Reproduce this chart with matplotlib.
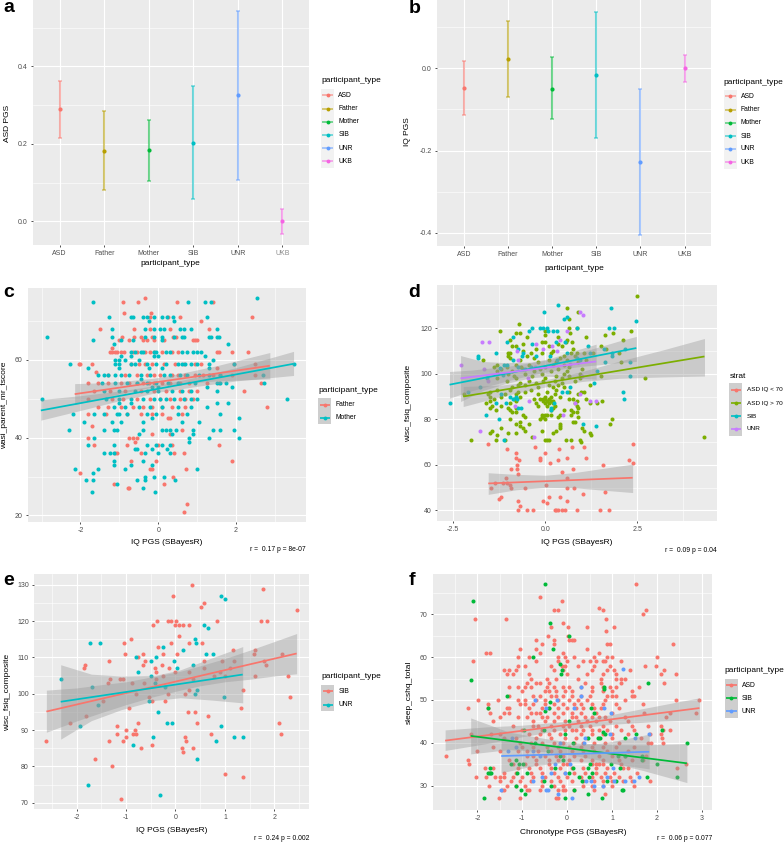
import matplotlib
matplotlib.use("Agg")
import matplotlib.pyplot as plt
from matplotlib.patches import Rectangle

plt.rcParams['font.family'] = ['Liberation Sans', 'DejaVu Sans']
plt.rcParams['axes.unicode_minus'] = False

W, H = 784, 843

RED = '#F8766D'
TEAL = '#00BFC4'
GREEN = '#00BA38'
BLUE = '#619CFF'
OLIVE = '#B79F00'
PINK = '#F564E3'
LEAF = '#7CAE00'
PURPLE = '#C77CFF'

# panels a and b
types = ['ASD', 'Father', 'Mother', 'SIB', 'UNR', 'UKB']
type_colors = [RED, OLIVE, GREEN, TEAL, BLUE, PINK]
a_mean = [0.289, 0.182, 0.183, 0.203, 0.326, 0.0]
a_low = [0.215, 0.080, 0.104, 0.058, 0.107, -0.033]
a_high = [0.363, 0.284, 0.262, 0.348, 0.542, 0.033]
b_mean = [-0.047, 0.023, -0.049, -0.015, -0.227, 0.0]
b_low = [-0.113, -0.070, -0.124, -0.170, -0.405, -0.034]
b_high = [0.019, 0.114, 0.027, 0.138, -0.049, 0.032]

# panel c, rows of (score, PGS values)
c_father_rows = [
    (76, [-.35]), (75, [-.9, -.53, .48, 1.4]), (72, [-.89, -.18]), (71, [-.2, .25, .55, 2.4]),
    (70, [1.1]), (68, [-1.5, -.63, -.2, .3, 1.3]), (66, [-.92, -.63, -.45, -.15, .37, .45]),
    (65, [-1.0, -.75, -.4, -.3, -.12, .15, .9, .95, 1.0]), (63, [-1.2]),
    (62, [-1.25, -1.2, -1.12, -1.05, -.95, -.88, -.65, -.55, -.35, -.2, -.1, .1, .35, .5, 1.5, 1.55, 1.9, 2.3]),
    (59, [-2.03, -2.0, -1.7, -.7, -.5, -.35, -.15, .15, .42, .65, .95, 1.1, 1.95, 2.5]),
    (58, [1.5]), (57, [-1.6]),
    (56, [-1.3, -.85, -.55, -.3, -.1, .05, .35, .5, .7, .95, 1.15, 1.4, 1.6, 1.9, 2.5]),
    (54, [-1.8, -1.55, -1.3, -.95, -.75, -.55, -.4, -.25, -.1, .1, .3, .55, .8, 1.25, 1.55, 2.65]),
    (52, [-1.65, -1.25, -.85, -.45, -.1, .2, .55, .8, 1.0, 2.2]),
    (50, [-1.8, -1.2, -.9, -.55, -.2, .05, .3, .55, .7, .9]),
    (48, [-1.55, -1.3, -.95, -.65, -.4, -.15, .1, .35, .7, 2.8]),
    (46, [-1.8, -1.35, -.8, -.45, -.15, .1, .6]), (45, [.25, .3]), (43, [-1.7]), (42, [.6]), (41, [-.15, .3]),
    (40, [-1.8, -.75, -.65, -.55]), (39, [-.6]), (38, [-1.65, -.8, 0, .35, 1.55]),
    (36, [-1.1, -1.05, -.45, .4, .65]), (34, [-.7, -.05, 1.9]), (32, [-.2, -.15, .72]), (31, [-2.0]),
    (30, [.37]), (28, [-1.15, .15]), (27, [-.78, -.74]), (23, [.73]), (21, [.67]),
]
c_mother_rows = [
    (76, [2.53]), (75, [-1.67, .77, 1.2, 1.36]),
    (71, [-1.27, -.7, -.65, -.4, -.3, -.1, .1, .22, .38, 1.25]), (70, [-.25, .4]),
    (68, [-1.2, -.35, -.1, .05, .15, .55, .65, .85, 1.5]),
    (66, [-2.87, -1.2, -.35, -.1, .1, .4, .6, .65, 1.3, 1.35, 1.5, 1.55]),
    (65, [-1.68, -.95, -.65, .1]), (64, [-1.15, 1.8]),
    (62, [-.7, -.6, -.45, -.4, -.1, -.05, .2, .3, .6, .75, .9, 1.0, 1.1]),
    (61, [-.95, -.7, -.1, .0, 1.2]), (60, [-1.1, -1.0, -.85, -.5, 1.4]),
    (59, [-2.27, -1.1, -1.0, -.7, -.6, -.3, -.05, .2, .5, .6, .7, .85, 1.0, 1.3, 1.95, 3.5]),
    (58, [-1.8, -1, -.25, .1, 1.3]),
    (56, [-1.55, -1.4, -1.3, -1.1, -.95, -.75, -.45, -.2, .15, .3, .55, .75, 1.05, 1.3, 1.6, 2.7]),
    (55, [-.45]),
    (54, [-1.45, -1.1, -.8, -.55, -.3, -.05, .25, .5, .95, 1.5, 1.6, 1.75, 2.72]),
    (53, [-.15, 0, 1.25, 1.9]), (52, [-1.4, -1.0, -.6, -.3, 0, .35, .6, .85, 1.5]),
    (50, [-3.0, -1.35, -1.0, -.7, -.4, -.1, .05, .2, .4, .65, .85, 1.0, 3.3]),
    (49, [-1.0, -.7, 1.5, 1.8]), (48, [-1.15, -.85, -.5, -.2, .1, .5, .85, 1.25]),
    (46, [-2.2, -1.65, -1.4, -1.05, -1, -.8, -.3, -.05, .5, .75, 1.6]), (45, [-.15, 2.08]),
    (44, [-1.9, -1.2, -.95, -.4, .6, 1.05]),
    (42, [-2.3, -1.4, -1.15, -1.05, -.4, .1, .2, .3, .45, .9, 1.4, 1.6, 1.95]),
    (41, [-.5, .35, .9]), (40, [-1.65, .8, 1.3, 2.08]), (39, [.8]),
    (38, [-1.8, -1.15, -.3, -.05, .1, .3]), (37, [-.6, -.55, -.15, .22]),
    (36, [-1.4, -1.25, -1.15, -.35, 0, .3]), (34, [-1.15, -.4]), (33, [-1.15, -.7, -.15]),
    (32, [-2.15, -1.55, -.85, 1.0]), (31, [-1.68]), (30, [-.35, -.1, .15]),
    (29, [-1.85, -1.68, -.55, -.35, .43]), (28, [-1.05]), (27, [-.4]), (26, [-1.7, -.08]),
]
c_father_band_x = [-2.15, -1.5, -.8, -.1, .6, 1.5, 2.87]
c_father_band_low = [48.5, 50.1, 51.7, 53.1, 53.9, 54.6, 55.1]
c_father_band_high = [53.9, 54.1, 54.6, 55.3, 56.6, 58.5, 61.9]
c_father_line = [51.2, 58.5]
c_mother_band_x = [-3.02, -2, -1, 0, 1, 2, 3.48]
c_mother_band_low = [44.5, 47, 49.5, 51.7, 53.2, 54.6, 56]
c_mother_band_high = [49.8, 50.8, 52, 53.5, 55.6, 58, 62.2]
c_mother_line = [47, 59]

# panel d
d_asd_low_x = [-1.56, -1.03, -.8, -.79, -.72, -.77, -.77, -.94, -.73, -.28, 0, -.14, -.14, .14, .34, .38, .44, .59,
               .73, .76, 1.06, 1.1, 1.57, 2.27, 2.38, 2.37, -1.37, -1.47, -1.08, -1.14, -1.03, -.96, -.93, -.56, .02,
               .58, .6, .78, 1.03, 1.62, .39, .1, -.05, .04, .6, -1.27, -1.19, -.75, -.7, -.75, -.49, -.34, .25, .29,
               .34, .45, .53, .85, 1.48, 1.74]
d_asd_low_y = [69, 67, 65, 63, 62, 60, 58, 58, 56, 68, 65, 63, 62, 61, 62, 67, 57, 63,
               68, 58, 68, 63, 60, 62, 61, 69, 52, 50, 54, 52, 52, 51, 50, 50, 51,
               54, 50, 50, 47, 48, 46, 46, 44, 43, 44, 45, 46, 44, 42, 40, 40, 40, 40, 40,
               40, 40, 40, 40, 40, 40]
d_asd_high_rows = [
    (134, [2.48]), (129, [.6]), (127, [.88]), (124, [.65]), (122, [-.71]), (120, [.65, .85]),
    (119, [-1.23, 0, 2.32]), (118, [-.8, -.7, .68, 1.85]), (117, [0, 1.62]), (116, [-.5, .35, 1.1]),
    (115, [-.95, .6, 2.1]), (114, [-.1, 0, .55, .72]), (113, [-.6, .35]), (112, [-.9, -.8, .1, .45, 1.5]),
    (111, [-.25, .75, 1.65]), (110, [-.6, .2]), (109, [-1, -.95, -.4, -.1, .15, .7, .85, 1.05, 1.3, 2.0]),
    (108, [-1, -.5, .5, .8]), (107, [-.95, -.3, .4]), (106, [-1.7, -.7, .1, .6, 1.1]), (105, [-.2, .3, .9, 2.05]),
    (104, [-1.3, -.8, -.45, .2, .5]), (103, [-1.4, -1.05, -.65, 0, .65]), (102, [-1.2, -.6, -.15, .35, 1.0]),
    (101, [-1.3, -.9, -.3, .15, .6]), (100, [-1.0, -.55, -.1, .5, .95]), (99, [-.85, -.35, .3, .65, 1.5]),
    (98, [-1.3, -.8, 0, .45, .95, 2.7]), (97, [-1.05, -.45, -.05, .25, .8]), (96, [-.7, -.25, .45]),
    (95, [-.75, -.55, .1, .35, 1.2]), (94, [-.9, -.2, .2, .5]), (93, [-1.3, -.95, -.4, .3]),
    (92, [-1.5, -.75, -.55, .05, .65, .98, 1.05]), (91, [-2.22, -1.55, -1.1, -.8, -.2, .25, .9]),
    (90, [-1.5, -1.2, -.7, 0, .15, .4]), (89, [-1.4, -.85, -.3, -.15, -.05, 0, .1, .65, .75, 1.1]),
    (88, [-1.5, -.8, -.05, .05, .15, .2, .85, 1.55]), (87, [-1.6, -.95, -.25, 0, .1, .2, .8, 1.2, 1.4]),
    (86, [-1.45, -1.2, -.2, .05, .25, .85]), (85, [-1.5, -1, -.8, .2, .9]), (84, [-1.35, -.95, .15, .5, .7]),
    (83, [-.9, -.8, .75, .85]), (82, [-.6, -.1, 0, .05, .15, .4, .7]), (81, [-.55, -.1, -.05, .35, .9]),
    (80, [-.95, -.15, 0, 1.8]), (79, [-.7, .75, .8]), (78, [-.8, -.45, .4, 1.75]), (77, [-.7, .4]),
    (76, [-1.2, -.6, .4, 1.0]), (75, [-1.45, -.55, -.1, .3, 1.05]), (74, [-1.5, -1.0, -.8, .2, 1.2]),
    (73, [-1.3, 1.25]), (72, [-.35, 4.31]), (71, [-2.02, -1.35, -1.1, 0, .05, .1, .55, .7, .95]), (70, [.97]),
]
d_sib_x = [-2.6, -1.6, -1.26, -1.12, -1.33, -1.82, -1.83, -1.33, -2.1, -1.78, -1.19, -.96, -1.07, -.87, -.8, -.78,
           -1.03, -.88, -.75, -1.05, -1.12, -.6, -.64, -.55, -.44, -.35, -.36, -.15, -.04, -.05, .04, .08, .2, .31,
           .34, .28, .52, .6, .54, .85, 1.79, 1.74, 1.86, 2.46, 1.6, 2.17, 1.8, 1.82, 2.29, 2.31, 2.1, 2.14, 1.62,
           1.39, 1.32, 1.38, 1.02, 1.17, 1.22, .68, .44, .58, .23, .15, .15, -.73, -.67, .94, .12, .58, .85, .32,
           -.24, -.4, -.73, -.87, -1.14, -1.58, -1.23]
d_sib_y = [87, 82, 80, 71, 87, 108, 107, 109, 92, 94, 91, 90, 87, 89, 90, 89,
           114, 116, 111, 104, 104, 109, 108, 102, 119, 120, 113, 120, 127, 120, 120, 119, 119, 119,
           130, 114, 124, 125, 114, 120, 129, 120, 120, 123, 111, 111, 109, 108, 105, 99, 92, 89, 105,
           101, 96, 77, 78, 112, 109, 94, 92, 92, 87, 85, 84, 85, 85, 106, 108, 109, 107, 106,
           108, 103, 103, 106, 99.5, 98, 102.5]
d_unr_x = [-2.3, -1.76, -1.72, -1.52, -1.66, -1.55, -.78, -.75, -.48, -.31, -.25, -.44, -.83, -.05, .17, .39, .58,
           .47, .94, 1.02, .94, .81, 1.2, 1.38, .99, .67, .31, -.28, -1.32]
d_unr_y = [104, 75, 114, 114, 102, 97, 110, 106, 98, 72, 113, 88, 86, 111, 112, 115, 119,
           82, 127, 126, 91, 87, 88, 88, 99, 104.5, 110, 103, 100]
d_asd_low_band_x = [-1.55, -.8, 0, .8, 1.6, 2.37]
d_asd_low_band_low = [47, 49, 50.1, 49.9, 48.8, 47.8]
d_asd_low_band_high = [56.5, 55.8, 55.4, 56.6, 58.5, 60.3]
d_asd_low_line = [51.8, 54.3]
d_asd_high_band_x = [-2.23, -1.2, 0, 1, 2, 3.2, 4.32]
d_asd_high_band_low = [85.6, 90, 94.2, 96.6, 98, 98.6, 99]
d_asd_high_band_high = [94.4, 95, 97.3, 101, 105.5, 110.5, 115.5]
d_asd_high_line = [90, 107.6]
d_sib_band_x = [-2.6, -2, -1.5, -1, -.5, .1, .5, 1, 1.5, 2, 2.47]
d_sib_band_low = [89.3, 92.5, 94.8, 97, 99, 101, 102.2, 103.3, 104, 104.9, 105.4]
d_sib_band_high = [101, 101.6, 102.5, 103.3, 104.6, 106.2, 107.7, 109.7, 112, 114.4, 116.4]
d_sib_line = [95.2, 111.3]
d_unr_band_x = [-2.3, -1.7, -1.1, -.4, .1, .7, 1.38]
d_unr_band_low = [87.8, 92.6, 95.6, 98.2, 98.9, 98.3, 97.6]
d_unr_band_high = [108, 105.4, 104.9, 105.1, 106.6, 109.7, 113]
d_unr_line = [98, 105.4]

# panel e
e_sib_x = [-2.61, -2.13, -1.84, -1.82, -1.80, -1.62, -1.47, -1.35, -1.36, -1.34, -1.32, -1.28, -1.19, -1.18, -1.13,
           -1.11, -1.07, -1.07, -1.05, -1.02, -1.01, -.99, -.93, -.90, -.87, -.86, -.82, -.80, -.79, -.76, -.76, -.70,
           -.66, -.65, -.62, -.64, -.53, -.47, -.48, -.46, -.42, -.39, -.385, -.37, -.36, -.28, -.26, -.26, -.22,
           -.155, -.15, -.13, -.09, -.08, -.05, -.01, 0, .02, .04, .07, .08, .135, .15, .16, .2, .22, .2, .25, .28,
           .28, .28, .28, .33, .36, .36, .39, .43, .51, .54, .57, .58, .58, .66, .72, .78, .84, .9, .94, 1.01, 1.01,
           1.1, 1.17, 1.18, 1.32, 1.36, 1.37, 1.58, 1.61, 1.61, 1.73, 1.77, 1.8, 1.85, 1.83, 2.09, 2.13, 2.15, 2.28,
           2.31, 2.45]
e_sib_y = [87, 92, 107, 108, 94, 82, 98, 109, 103, 87, 104, 80, 91, 89, 104,
           71, 104, 87, 114, 111, 88, 90, 96, 115, 103, 89, 90, 89, 100, 110, 92, 85,
           111, 108, 109, 103, 99, 98, 86, 119, 107, 106, 104, 120, 113, 108, 111, 105, 98,
           120, 100, 107, 114, 120, 127, 106, 119, 120, 111, 116, 119, 85, 84, 119, 88, 87, 100, 95, 119,
           114, 106, 101, 130, 85, 104, 95, 92, 124, 114, 109, 125, 107, 94, 89, 105, 120, 106, 109, 78, 105,
           107, 112, 109, 96, 101, 77, 111, 112, 105, 120, 129, 109, 120, 108, 92, 89, 111, 105,
           99, 123]
e_unr_x = [-2.32, -1.92, -1.77, -1.73, -1.68, -1.57, -1.52, -.85, -.8, -.76, -.53, -.5, -.49, -.45, -.41, -.4, -.36,
           -.32, -.26, -.22, -.18, -.06, -.03, .03, .15, .35, .39, .39, .41, .43, .44, .58, .62, .66, .76, .81, .93,
           .93, .99, 1.01, 1.19, 1.36]
e_unr_y = [104, 91, 75, 114, 102, 97, 114, 86, 110, 106, 98, 105, 109, 88, 103, 110, 95,
           72, 113, 102, 92, 92, 109, 107, 112, 108, 115, 100, 114, 101, 82, 119, 111, 118, 111, 87, 91,
           127, 99, 126, 88, 88]
e_sib_band_x = [-2.61, -2, -1.5, -1, -.5, .1, .5, 1, 1.5, 2, 2.45]
e_sib_band_low = [89.4, 92.5, 94.8, 97, 99, 101, 102.2, 103.3, 104, 104.9, 105.5]
e_sib_band_high = [101, 101.6, 102.5, 103.3, 104.6, 106.2, 107.7, 109.7, 112, 114.4, 116.6]
e_sib_line = [95.1, 111.1]
e_unr_band_x = [-2.32, -1.7, -1.1, -.4, .1, .7, 1.36]
e_unr_band_low = [87.5, 92.6, 95.6, 98.2, 98.9, 98.3, 97.5]
e_unr_band_high = [108, 105.4, 104.9, 105.1, 106.6, 109.7, 113]
e_unr_line = [97.8, 105.3]

# panel f
f_asd_rows = [
    (77, [1.53]), (74, [-.6]), (73, [-.12]), (71.5, [.7]), (71, [-.3, -.2, .8, 1.75]), (70, [1.7]),
    (69, [-2.05, -1.37, .87]), (68, [-.1]), (67, [-.35, .03, .45, 1.05]), (66, [.87]), (65, [-.42, .03]),
    (64, [-.7, -.3, .05, .1, .15]), (63, [-.55, -.3, .9, .95, 2.35]), (62, [-1.05, -.7, .45]),
    (61, [-1.8, -1.73, -.6, -.1, .7]), (60, [-1.1, -.85, -.2, -.05, .15, .6, .9, 1.0, 2.0]),
    (59, [-2.1, -.7, -.2, 0, .35, .5, .65, .8, .85, 1.2]),
    (58, [-1.1, -.95, -.35, -.12, -.05, .25, .6, .95, 1.73, 1.99]),
    (57, [-1.4, -1.3, -1.15, -.3, -.1, .55, .9, 1.05, 1.4, 2.17]),
    (56, [-1.35, -1.2, -.85, 0, .45, .8, 1.1, 2.1, 2.43]), (55, [-.8, -.45, -.25, .25, .75, 1.1, 1.2, 1.3]),
    (54, [-.9, -.7, -.6, -.4, .4, .75, 1.2, 2.17]),
    (53, [-1.3, -1.1, -.95, -.8, -.45, -.3, -.1, .05, .3, .55, .8, .95, 1.1, 1.6]),
    (52, [-1.0, -.5, -.4, -.25, -.05, .1, .55, .8, 1.0, 1.45]),
    (51, [-1.3, -.75, -.6, -.35, -.25, -.1, .1, .3, .5, .9, 1.0, 1.1, 1.45, 1.5]),
    (50, [-1.98, -1.55, -1.1, -.95, -.7, -.5, -.2, .05, .25, .45, .85, 1.3, 2.43, 2.95]),
    (49, [-1.77, -1.05, -.95, -.75, -.5, -.3, -.1, .15, .3, .55, .8, 1.1, 1.7]),
    (48, [-2.2, -1.77, -1.35, -1.3, -.85, -.55, -.4, -.2, 0, .2, .35, .6, .75, 1.15]),
    (47, [-1.73, -1.4, -1.3, -.8, -.7, -.6, -.3, -.1, .1, .3, .65, 1.0, 1.72, 2.3, 2.88]),
    (46, [-1.5, -1.1, -.9, -.55, -.45, -.2, .1, .2, .4, .55, .7, .85, 1.3, 2.2]),
    (45, [-1.65, -.75, -.5, -.3, -.05, .25, .45, .65, .95, 1.35]),
    (44, [-1.2, -.75, -.65, -.35, -.1, .05, .3, .5, .8, 1.1, 1.45, 1.8, 2.1]),
    (43, [-1.0, -.55, -.3, -.05, .1, .2, .35, .55, .7, .9, 1.2, 1.5, 2.13, 2.3]),
    (42, [-2.15, -1.7, -1.5, -.85, -.6, -.4, -.15, .3, .55, .8, 1.0, 1.35, 1.85, 2.1]),
    (41, [-1.4, -1.15, -.7, -.35, -.05, .2, .45, .7, 1.0, 1.65, 2.12]),
    (40, [-1.05, -.8, -.55, -.3, -.1, .15, .35, .6, .85, 1.15, 1.8, 1.86, 2.13]),
    (39, [-1.65, -1.0, -.75, -.45, -.2, .05, .3, .55, .8, 1.1, 1.5]),
    (38, [-2.0, -1.5, -1.1, -.9, -.65, -.35, -.15, .1, .35, .6, .9, 1.35]),
    (37, [-2.7, -.9, -.75, -.5, -.25, -.1, .15, .4, .7, 1.0, 1.3, 1.75]),
    (36, [-2.2, -1.3, -.7, -.4, -.2, .05, .3, .55, .8, 1.15, 1.45, 1.7]),
    (35, [-2.18, -1.2, -.95, -.7, -.4, -.1, 0, .55, .65, .7, .8, 1.2, 2.65]),
    (34, [-1.83, -1.65, -1.1, -.85, -.6, -.35, -.15, .1, .35, .65, .9, 1.25, 1.35, 2.45]),
    (33, [-1.75, -1.4, -1.15, -.8, -.55, -.3, -.05, .15, .4, .65, .85, 1.05, 1.55]),
    (32, [-2.03, -1.8, -1.6, -1.5, -1.4, -1.2, -1.0, -.75, -.5, -.2, 0, .3, .55, .75, .95, 1.15, 1.4]),
    (31, [-1.5, -1.25, -1.05, -.8, -.55, -.35, -.15, .1, .35, .6, .8, 1.0, 1.25, 1.45, 1.85]),
    (30, [-1.75, -1.35, -1.15, -.95, -.55, -.3, -.1, .35, .55, .8, 1.0, 1.5]),
    (29, [-1.45, -1.4, -.9, -.85, -.6, -.2, -.1, -.05, .15, .6]), (28, [.85]), (27, [-1.52, -1.05, -.25, -.2]),
]
f_sib_x = [-2.09, -2.15, -.49, -.39, .04, -.31, -.77, -.16, -.11, -.13, -1.35, -1.77, -.39, -.4, -.49, .83, .83, 1.8,
           .53, .59, .05, .81, .84, 1.54, 2.12, 2.67, 1.3, .68, .73, .47, -.05, -.52, -.96, .13, -.71, -.42, 2.0,
           2.44, -1.85, -.95, -1.02, -1.13, -1.11, -.9, -1.73, -1.77, -1.73, -1.69, -1.24, -1.08, -.98, -.51, -.35,
           -.26, -.04, .04, .13, .16, .27, .34, .47, .49, .47, .51, .56, .78, .88, .97, 1.08, 1.19, 1.22, 1.25, 1.29,
           1.66, 1.66, 1.77, 1.14, -.16, -.09, -1.13]
f_sib_y = [73, 54.6, 77, 68, 65, 62, 60, 58.3, 57, 56, 51, 48, 49.5, 48, 47.5, 53, 52.5, 54,
           48, 47, 45, 42.5, 42, 42, 43, 40, 41, 41, 41, 41, 42, 43, 43, 40, 40, 38, 35,
           32, 27, 28, 29, 30, 33, 33, 34, 33, 33, 33, 35, 35, 35, 31, 30,
           34, 27, 33, 34, 29, 32, 31, 28, 32, 34, 35, 33, 27, 31, 35, 31, 34, 29, 29, 37,
           36, 37, 32, 37, 37, 36, 36]
f_unr_x = [-1.48, -1.23, -1.13, -.72, -.22, -.48, .32, .32, .15, .82, .98, 1.24, .96, .39, 1.83, 1.51, -.75, -.55, -.46,
           -.42, -.37, -.28, -.2, .1, -.05, .06, .43, .6, .54, .8, .89, 1.03, 1.04, 1.29, 1.5, 1.6, -.61, -.76, -1.32,
           -.16, .38]
f_unr_y = [29, 41, 39, 50, 50, 48, 51, 53, 48, 48, 47, 57.2, 42, 41, 42, 41, 31, 32, 29,
           29, 33, 35, 28, 27, 33, 35, 31, 30, 31, 30, 32, 34, 31, 31, 31, 32, 37, 38, 38,
           40, 40]
f_asd_band_x = [-2.72, -1.8, -1, 0, 1, 2, 2.95]
f_asd_band_low = [38.2, 39.8, 41.4, 43.2, 44.3, 45, 45.4]
f_asd_band_high = [43, 43.7, 44.1, 45, 46.6, 48.6, 50.5]
f_asd_line = [40.5, 48.1]
f_sib_band_x = [-2.15, -1.3, -.5, .1, .8, 1.7, 2.67]
f_sib_band_low = [37.4, 38.4, 37.9, 37.1, 35.8, 33.5, 30.7]
f_sib_band_high = [45.8, 42.5, 41, 40.1, 39.6, 39.5, 39.8]
f_sib_line = [41.6, 35.2]
f_unr_band_x = [-1.47, -.7, .1, .9, 1.83]
f_unr_band_low = [33, 34.7, 35.6, 35.3, 33.9]
f_unr_band_high = [41.3, 39.9, 39.3, 40.1, 42]
f_unr_line = [36.9, 37.9]


def flatten(rows):
    xs, ys = [], []
    for y, row in rows:
        for x in row:
            xs.append(x)
            ys.append(y)
    return xs, ys


fig = plt.figure(figsize=(W / 100, H / 100), dpi=100)
# full figure overlay in pixel coordinates, used for letters and legends
over = fig.add_axes([0, 0, 1, 1], zorder=5)
over.set_xlim(0, W)
over.set_ylim(H, 0)
over.axis('off')


def make_axes(box, xlim, ylim, xmaj, xlabs, xmin, ymaj, ylabs, ymin):
    x0, y0, x1, y1 = box
    ax = fig.add_axes([x0 / W, 1 - y1 / H, (x1 - x0) / W, (y1 - y0) / H])
    ax.set_facecolor('#EBEBEB')
    for s in ax.spines.values():
        s.set_visible(False)
    ax.set_xlim(*xlim)
    ax.set_ylim(*ylim)
    ax.set_xticks(xmaj, xlabs)
    ax.set_yticks(ymaj, ylabs)
    ax.set_xticks(xmin, minor=True)
    ax.set_yticks(ymin, minor=True)
    ax.set_axisbelow(True)
    ax.grid(which='major', color='white', lw=0.85)
    ax.grid(which='minor', color='white', lw=0.4)
    ax.tick_params(which='major', length=1.6, width=0.6, color='#333333', labelsize=5,
                   labelcolor='#4D4D4D', pad=2.2)
    ax.tick_params(which='minor', length=0)
    return ax


def labels(ax, xlabel, ylabel, xpos, ypos):
    ax.set_xlabel(xlabel, fontsize=6.0, color='black', va='center')
    ax.set_ylabel(ylabel, fontsize=6.0, color='black', va='center')
    ax.xaxis.set_label_coords(*xpos, transform=over.transData)
    ax.yaxis.set_label_coords(*ypos, transform=over.transData)


def legend(title, title_x, title_y, names, colors, centers, ribbon, alpha=1.0, size=4.9):
    over.text(title_x, title_y, title, fontsize=6.0, ha='left', va='center')
    for name, col, cy in zip(names, colors, centers):
        over.add_patch(Rectangle((title_x, cy - 6.6), 13.2, 13.2, fc='#F2F2F2', ec='none'))
        if ribbon:
            over.add_patch(Rectangle((title_x, cy - 6.6), 13.2, 13.2, fc='#999999', ec='none', alpha=0.4))
        over.plot([title_x + 1.3, title_x + 11.9], [cy, cy], color=col, lw=1.2, alpha=alpha, solid_capstyle='butt')
        over.plot([title_x + 6.6], [cy], 'o', color=col, ms=2.8, mew=0)
        over.text(title_x + 17.3, cy, name, fontsize=size, ha='left', va='center', color='black')


def error_panel(ax, mean, low, high):
    pos = list(range(1, len(types) + 1))
    for p, m, lo, hi, col in zip(pos, mean, low, high, type_colors):
        err = [[m - lo], [hi - m]]
        ax.errorbar([p], [m], yerr=err, color=col, alpha=0.55, lw=1.5, capsize=1.7, capthick=1.1, fmt='none')
        ax.plot([p], [m], 'o', color=col, ms=3.0, mew=0)


def points(ax, x, y, col):
    ax.scatter(x, y, s=8.5, color=col, linewidths=0, zorder=2)


def smooth(ax, band_x, low, high, line, col):
    ax.fill_between(band_x, low, high, color='#999999', alpha=0.4, lw=0, zorder=3)
    ax.plot([band_x[0], band_x[-1]], line, color=col, lw=1.25, zorder=4, solid_capstyle='butt')


def note(text, right, y):
    over.text(right, y, text, fontsize=4.85, ha='right', va='center', color='black')


# a
pos6 = [1, 2, 3, 4, 5, 6]
ax = make_axes((33, 0, 309, 245), (0.4, 6.6), (-0.061, 0.571), pos6, types, [],
               [0, 0.2, 0.4], ['0.0', '0.2', '0.4'], [0.1, 0.3, 0.5])
error_panel(ax, a_mean, a_low, a_high)
ax.get_xticklabels()[5].set_color('#8A8A8A')
labels(ax, 'participant_type', 'ASD PGS', (170.5, 263.5), (7.5, 123))
legend('participant_type', 321, 81, types, type_colors, [95.3, 108.5, 121.7, 135, 148, 161.3], False, 0.6)

# b
ax = make_axes((437, 0, 711, 246), (0.39, 6.6), (-0.4316, 0.166), pos6, types, [],
               [-0.4, -0.2, 0], ['-0.4', '-0.2', '0.0'], [-0.3, -0.1, 0.1])
error_panel(ax, b_mean, b_low, b_high)
labels(ax, 'participant_type', 'IQ PGS', (574, 268), (408, 132))
legend('participant_type', 723.7, 82, types, type_colors, [96.3, 109.5, 122.7, 136, 149, 162], False, 0.6)

# c
ax = make_axes((28, 288, 306, 522), (-3.35, 3.8), (18.3, 78.5), [-2, 0, 2], ['-2', '0', '2'], [-3, -1, 1, 3],
               [20, 40, 60], ['20', '40', '60'], [30, 50, 70])
points(ax, *flatten(c_father_rows), RED)
points(ax, *flatten(c_mother_rows), TEAL)
smooth(ax, c_father_band_x, c_father_band_low, c_father_band_high, c_father_line, RED)
smooth(ax, c_mother_band_x, c_mother_band_low, c_mother_band_high, c_mother_line, TEAL)
labels(ax, 'IQ PGS (SBayesR)', 'wasi_parent_mr_tscore', (167, 542.5), (5, 405))
legend('participant_type', 318.3, 391, ['Father', 'Mother'], [RED, TEAL], [404.7, 417.7], True)
note('r =  0.17 p = 8e-07', 306, 549.5)

# d
ax = make_axes((437, 285, 717, 521), (-2.94, 4.66), (35.3, 139), [-2.5, 0, 2.5], ['-2.5', '0.0', '2.5'],
               [-1.25, 1.25, 3.75], [40, 60, 80, 100, 120], ['40', '60', '80', '100', '120'], [50, 70, 90, 110, 130])
points(ax, d_asd_low_x, d_asd_low_y, RED)
points(ax, *flatten(d_asd_high_rows), LEAF)
points(ax, d_sib_x, d_sib_y, TEAL)
points(ax, d_unr_x, d_unr_y, PURPLE)
smooth(ax, d_asd_low_band_x, d_asd_low_band_low, d_asd_low_band_high, d_asd_low_line, RED)
smooth(ax, d_asd_high_band_x, d_asd_high_band_low, d_asd_high_band_high, d_asd_high_line, LEAF)
smooth(ax, d_sib_band_x, d_sib_band_low, d_sib_band_high, d_sib_line, TEAL)
smooth(ax, d_unr_band_x, d_unr_band_low, d_unr_band_high, d_unr_line, PURPLE)
labels(ax, 'IQ PGS (SBayesR)', 'wisc_fsiq_composite', (577, 543), (409, 403))
legend('strat', 729.3, 376, ['ASD IQ < 70', 'ASD IQ > 70', 'SIB', 'UNR'], [RED, LEAF, TEAL, PURPLE],
       [390, 403, 416, 429], True, size=4.6)
note('r =  0.09 p = 0.04', 717, 550)

# e
ax = make_axes((34, 574, 309, 809), (-2.86, 2.70), (68.25, 133), [-2, -1, 0, 1, 2], ['-2', '-1', '0', '1', '2'],
               [-2.5, -1.5, -.5, .5, 1.5, 2.5], [70, 80, 90, 100, 110, 120, 130],
               ['70', '80', '90', '100', '110', '120', '130'], [75, 85, 95, 105, 115, 125])
points(ax, e_sib_x, e_sib_y, RED)
points(ax, e_unr_x, e_unr_y, TEAL)
smooth(ax, e_sib_band_x, e_sib_band_low, e_sib_band_high, e_sib_line, RED)
smooth(ax, e_unr_band_x, e_unr_band_low, e_unr_band_high, e_unr_line, TEAL)
labels(ax, 'IQ PGS (SBayesR)', 'wisc_fsiq_composite', (172, 831), (8, 692))
legend('participant_type', 321.3, 677, ['SIB', 'UNR'], [RED, TEAL], [691.3, 704.7], True)
note('r =  0.24 p = 0.002', 309, 838)

# f
ax = make_axes((433, 574, 712, 810), (-2.99, 3.23), (24.3, 79.4), [-2, -1, 0, 1, 2, 3],
               ['-2', '-1', '0', '1', '2', '3'], [-2.5, -1.5, -.5, .5, 1.5, 2.5],
               [30, 40, 50, 60, 70], ['30', '40', '50', '60', '70'], [35, 45, 55, 65, 75])
points(ax, *flatten(f_asd_rows), RED)
points(ax, f_sib_x, f_sib_y, GREEN)
points(ax, f_unr_x, f_unr_y, BLUE)
smooth(ax, f_asd_band_x, f_asd_band_low, f_asd_band_high, f_asd_line, RED)
smooth(ax, f_sib_band_x, f_sib_band_low, f_sib_band_high, f_sib_line, GREEN)
smooth(ax, f_unr_band_x, f_unr_band_low, f_unr_band_high, f_unr_line, BLUE)
labels(ax, 'Chronotype PGS (SBayesR)', 'sleep_cshq_total', (573, 832), (409, 692))
legend('participant_type', 724.7, 671, ['ASD', 'SIB', 'UNR'], [RED, GREEN, BLUE], [685.3, 698.3, 711.3], True)
note('r =  0.06 p = 0.077', 712, 839)

# panel letters
for letter, x, y in [('a', 3.5, 12), ('b', 408.5, 13), ('c', 3.5, 297), ('d', 408.5, 297), ('e', 3.5, 585), ('f', 408.5, 585)]:
    over.text(x, y, letter, fontsize=14, fontweight='bold', ha='left', va='baseline', color='black')

fig.savefig('out.png', dpi=100)
